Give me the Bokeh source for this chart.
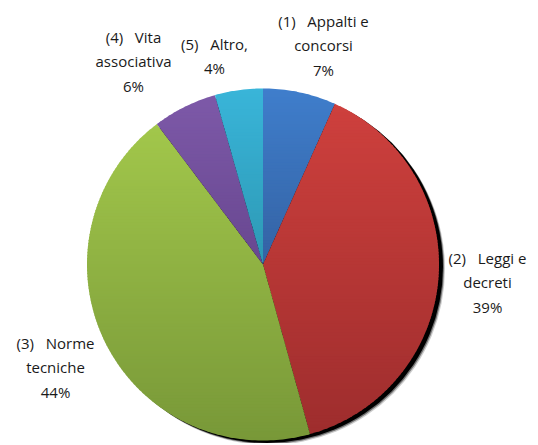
import math
from bokeh.plotting import figure
from bokeh.models import Range1d
from bokeh.core.properties import value
from bokeh.embed import file_html
from bokeh.resources import INLINE

# ---- data ----
categories = ["(1) Appalti e concorsi", "(2) Leggi e decreti", "(3) Norme tecniche",
              "(4) Vita associativa", "(5) Altro,"]
shares = [6.7, 39.0, 44.0, 5.9, 4.4]
pct_labels = ["7%", "39%", "44%", "6%", "4%"]
NB = "\u00a0\u00a0\u00a0"
label_lines = [
    ["(1)" + NB + "Appalti e", "concorsi", "7%"],
    ["(2)" + NB + "Leggi e", "decreti", "39%"],
    ["(3)" + NB + "Norme", "tecniche", "44%"],
    ["(4)" + NB + "Vita", "associativa", "6%"],
    ["(5)" + NB + "Altro,", "4%"],
]
top_colors = ["#3F7ECC", "#CE403D", "#A2C74B", "#7D59A8", "#39B5D9"]
bottom_colors = ["#3462A3", "#9E2D2D", "#789838", "#684790", "#2D98B4"]

# ---- layout (window pixel coordinates) ----
W, H = 536, 443
CX, CY, R = 262.5, 264.0, 176.0
label_pos = [(323, 20), (487, 257), (55, 342), (133, 36), (214, 43)]
LINE_STEP = 24.5

p = figure(width=W, height=H, output_backend="svg", toolbar_location=None,
           x_range=Range1d(0, W), y_range=Range1d(H, 0),
           min_border=0, outline_line_color=None)
p.axis.visible = False
p.grid.visible = False
p.background_fill_color = "white"
p.border_fill_color = "white"


def hex2rgb(h):
    h = h.lstrip("#")
    return tuple(int(h[i:i + 2], 16) for i in (0, 2, 4))


def mix(c1, c2, t):
    a, b = hex2rgb(c1), hex2rgb(c2)
    return "#%02x%02x%02x" % tuple(int(round(a[i] + (b[i] - a[i]) * t)) for i in range(3))


def clip(poly, yv, keep_below):
    def inside(pt):
        return pt[1] >= yv if keep_below else pt[1] <= yv
    out = []
    n = len(poly)
    for i in range(n):
        cur, prv = poly[i], poly[i - 1]
        ci, pi = inside(cur), inside(prv)
        if ci:
            if not pi:
                t = (yv - prv[1]) / (cur[1] - prv[1])
                out.append((prv[0] + t * (cur[0] - prv[0]), yv))
            out.append(cur)
        elif pi:
            t = (yv - prv[1]) / (cur[1] - prv[1])
            out.append((prv[0] + t * (cur[0] - prv[0]), yv))
    return out


# shadow
for dx, dy, a in [(6.0, 4.5, 0.2), (5.0, 3.5, 0.45), (4.0, 2.5, 1.0)]:
    p.scatter([CX + dx], [CY + dy], size=2 * R, marker="circle",
              fill_color="black", fill_alpha=a, line_color=None)

total = sum(shares)
start = 0.0
xs_all, ys_all, cols_all = [], [], []
for i, s in enumerate(shares):
    a0 = start / total * 2 * math.pi
    a1 = (start + s) / total * 2 * math.pi
    start += s
    n = max(4, int((a1 - a0) / (2 * math.pi) * 360))
    poly = [(CX, CY)]
    for j in range(n + 1):
        th = a0 + (a1 - a0) * j / n
        poly.append((CX + R * math.sin(th), CY - R * math.cos(th)))
    ymin = min(q[1] for q in poly)
    ymax = max(q[1] for q in poly)
    nb = max(1, int(math.ceil((ymax - ymin) / 3.0)))
    for b in range(nb):
        y0 = ymin + (ymax - ymin) * b / nb
        y1 = ymin + (ymax - ymin) * (b + 1) / nb
        band = clip(clip(poly, y0 - 0.4, True), y1 + 0.4, False)
        if len(band) < 3:
            continue
        t = (b + 0.5) / nb
        xs_all.append([q[0] for q in band])
        ys_all.append([q[1] for q in band])
        cols_all.append(mix(top_colors[i], bottom_colors[i], t))

p.patches(xs_all, ys_all, fill_color=cols_all, line_color=None)

# labels
for lines, (lx, ly) in zip(label_lines, label_pos):
    for k, t in enumerate(lines):
        p.text([lx], [ly + k * LINE_STEP], text=[t], text_align="center",
               text_baseline="middle", text_font=value("Open Sans"),
               text_font_size="15px", text_color="#1a1a1a")

open("out.html", "w").write(file_html(p, INLINE))
